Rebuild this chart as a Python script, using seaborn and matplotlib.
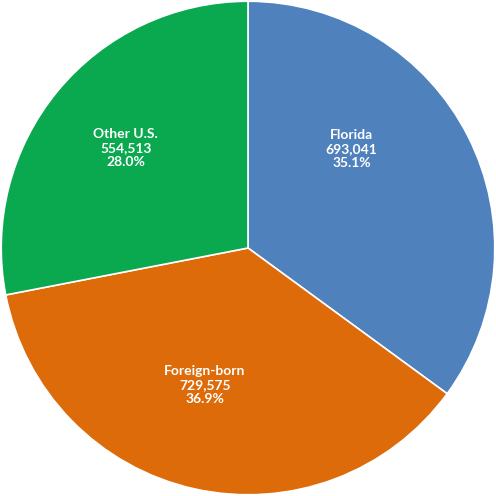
import matplotlib
matplotlib.use('Agg')
import matplotlib.pyplot as plt
import seaborn as sns

labels = ['Florida', 'Foreign-born', 'Other U.S.']
values = [693041, 729575, 554513]
colors = ['#4f81bd', '#dd6b0a', '#0aa84f']
# label anchor positions (fraction of radius), as Excel placed them
label_pos = [(0.42, 0.40), (-0.175, -0.555), (-0.495, 0.405)]

sns.set_style('white')
plt.rcParams['font.family'] = ['Lato', 'DejaVu Sans']

fig = plt.figure(figsize=(4.96, 4.96), dpi=100)
ax = fig.add_axes([0, 0, 1, 1])
total = sum(values)
wedges, _ = ax.pie(values, colors=colors, startangle=90, counterclock=False,
                   radius=1.0, wedgeprops=dict(edgecolor='white', linewidth=1.2))
for (x, y), lab, v in zip(label_pos, labels, values):
    ax.text(x, y, f'{lab}\n{v:,}\n{v / total * 100:.1f}%',
            ha='center', va='center', color='white', fontsize=10,
            fontweight='bold', linespacing=1.2)
ax.set_xlim(-1.005, 1.005)
ax.set_ylim(-1.005, 1.005)
ax.set_aspect('equal')
ax.axis('off')
fig.savefig('out.png', dpi=100)
